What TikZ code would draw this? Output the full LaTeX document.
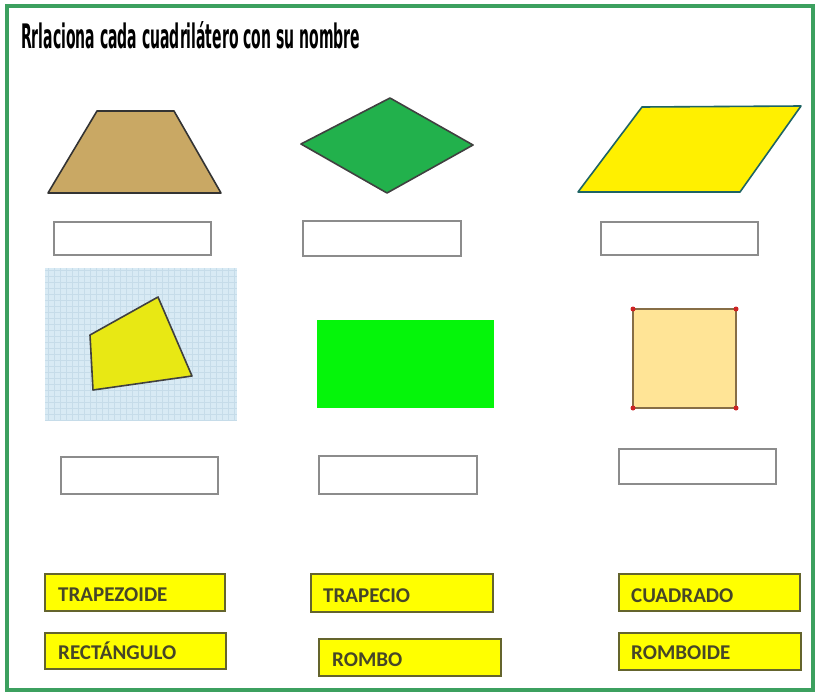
\documentclass[tikz,border=0pt]{standalone}
\usepackage{fontspec}
\usetikzlibrary{calc}
\setmainfont{Carlito}
\newfontfamily\titlefont{DejaVu Sans Condensed}
\definecolor{framegreen}{RGB}{60,160,95}
\definecolor{tanfill}{RGB}{201,168,100}
\definecolor{rhgreen}{RGB}{34,177,76}
\definecolor{payellow}{RGB}{255,240,0}
\definecolor{pastroke}{RGB}{30,100,100}
\definecolor{qyellow}{RGB}{232,232,20}
\definecolor{bgblue}{RGB}{216,234,244}
\definecolor{bgline}{RGB}{198,220,233}
\definecolor{brgreen}{RGB}{5,245,10}
\definecolor{sqfill}{RGB}{255,228,150}
\definecolor{sqstroke}{RGB}{135,110,70}
\definecolor{dotred}{RGB}{205,35,35}
\definecolor{lblfill}{RGB}{255,255,0}
\definecolor{lblstroke}{RGB}{100,100,45}
\definecolor{lbltext}{RGB}{70,70,40}
\definecolor{boxgray}{RGB}{140,140,140}
\begin{document}
\begin{tikzpicture}[x=1pt,y=-1pt,
  emptybox/.style={draw=boxgray, line width=1.6pt, fill=white, inner sep=0pt, anchor=north west},
  lblbox/.style={draw=lblstroke, line width=1.6pt, fill=lblfill, inner sep=0pt, anchor=north west},
  lbltxt/.style={anchor=base west, inner sep=0pt, text=lbltext, font=\fontsize{21}{23}\selectfont\bfseries},
  polyshape/.style={line width=1.6pt, line join=round}]
\useasboundingbox (0,0) rectangle (816,696);
\fill[white] (0,0) rectangle (816,696);
% frame
\draw[framegreen, line width=3.5pt] (7,6) rectangle (813,690);
% title
\node[anchor=base west, inner sep=0pt] (title) at (21,48) {\resizebox{339pt}{27pt}{\titlefont\bfseries Rrlaciona cada cuadrilátero con su nombre}};
% row 1 shapes
\draw[polyshape, fill=tanfill, draw=black!80] (97,111) -- (174,111) -- (221,193) -- (48,193) -- cycle;
\draw[polyshape, fill=rhgreen, draw=black!75] (390,98) -- (473,145) -- (387,193) -- (301,144) -- cycle;
\draw[polyshape, fill=payellow, draw=pastroke] (642,107) -- (801,106) -- (740,192) -- (578,192) -- cycle;
% row 1 boxes
\node[emptybox, minimum width=157pt, minimum height=33pt] (b1) at (53,221) {};
\node[emptybox, minimum width=158pt, minimum height=35pt] (b2) at (302,220) {};
\node[emptybox, minimum width=157pt, minimum height=33pt] (b3) at (600,221) {};
% textured background
\fill[bgblue] (45,268) rectangle (237,420);
\begin{scope}
\clip (45,268) rectangle (237,420);
\draw[bgline, line width=0.5pt, step=6pt] (45,268) grid (237,420);
\end{scope}
\draw[polyshape, fill=qyellow, draw=black!75] (158,297) -- (192,376) -- (93,390) -- (90,335) -- cycle;
% rectangle
\fill[brgreen] (317,320) rectangle (494,408);
% square
\draw[line width=2pt, fill=sqfill, draw=sqstroke] (633,309) rectangle (736,408);
\foreach \p in {(633,309),(736,309),(633,408),(736,408)} \fill[dotred] \p circle (2.5pt);
% row 2 boxes
\node[emptybox, minimum width=157pt, minimum height=37pt] (b4) at (60,456) {};
\node[emptybox, minimum width=158pt, minimum height=38pt] (b5) at (318,455) {};
\node[emptybox, minimum width=157pt, minimum height=35pt] (b6) at (618,448) {};
% labels
\node[lblbox, minimum width=180pt, minimum height=37pt] (l1) at (44,573) {};
\node[lbltxt] (t1) at ($(l1.north west)+(14,28)$) {TRAPEZOIDE};
\node[lblbox, minimum width=181pt, minimum height=36pt] (l2) at (44,632) {};
\node[lbltxt] (t2) at ($(l2.north west)+(14,27)$) {RECTÁNGULO};
\node[lblbox, minimum width=182pt, minimum height=38pt] (l3) at (310,573) {};
\node[lbltxt] (t3) at ($(l3.north west)+(13,29)$) {TRAPECIO};
\node[lblbox, minimum width=182pt, minimum height=37pt] (l4) at (318,638) {};
\node[lbltxt] (t4) at ($(l4.north west)+(14,28)$) {ROMBO};
\node[lblbox, minimum width=181pt, minimum height=37pt] (l5) at (618,573) {};
\node[lbltxt] (t5) at ($(l5.north west)+(13,29)$) {CUADRADO};
\node[lblbox, minimum width=182pt, minimum height=37pt] (l6) at (618,632) {};
\node[lbltxt] (t6) at ($(l6.north west)+(13,27)$) {ROMBOIDE};
\end{tikzpicture}
\end{document}
